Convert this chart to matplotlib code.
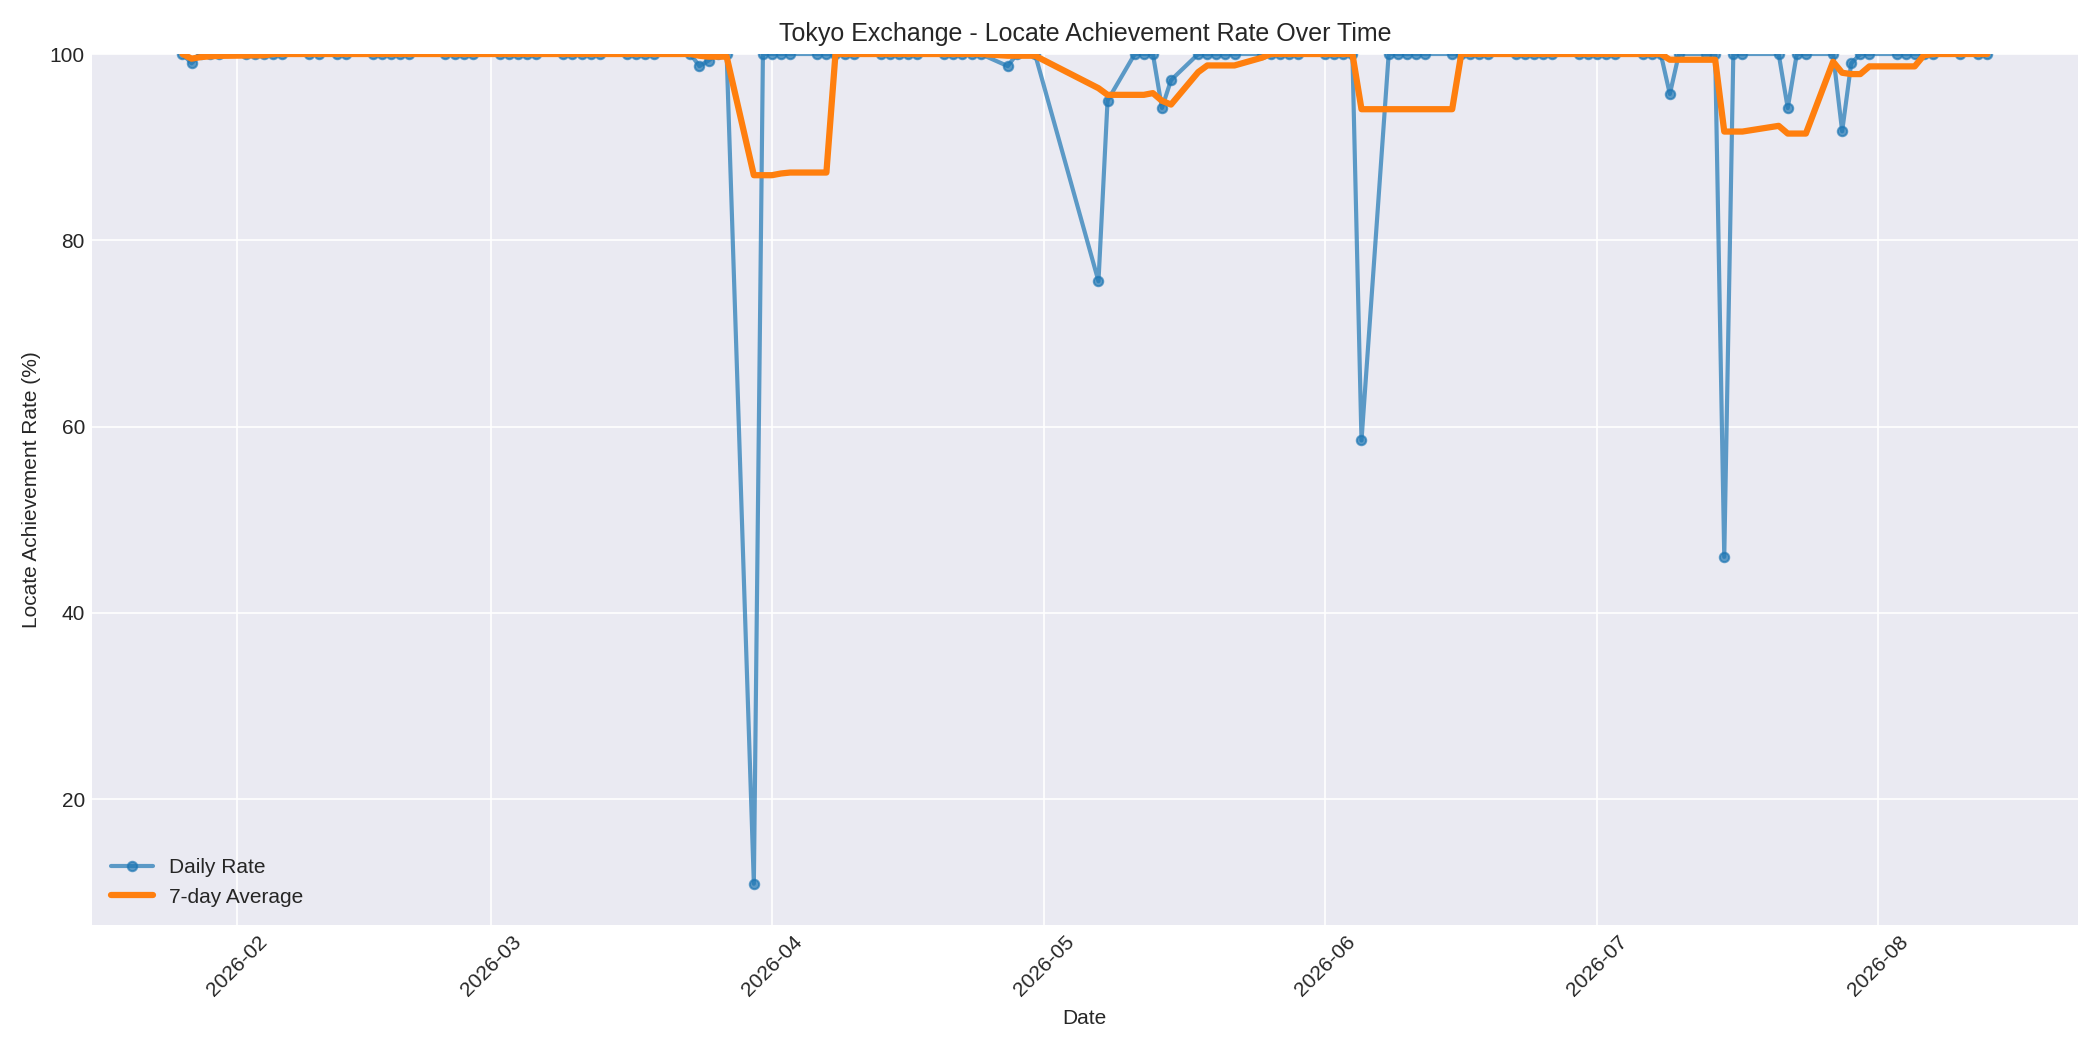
import pandas as pd
import matplotlib.pyplot as plt

plt.style.use('seaborn-v0_8-darkgrid')

START = '2026-01-26'
END = '2026-08-13'
HOLIDAYS = ['2026-02-11', '2026-02-23', '2026-03-20', '2026-04-29', '2026-05-01',
            '2026-05-04', '2026-05-05', '2026-05-06', '2026-07-20', '2026-08-11']

# non-100 daily values
DIPS = {
    '2026-01-27': 99.0,
    '2026-03-24': 98.7,
    '2026-03-25': 99.3,
    '2026-03-30': 10.9,
    '2026-04-27': 98.7,
    '2026-05-07': 75.6,
    '2026-05-08': 95.0,
    '2026-05-14': 94.2,
    '2026-05-15': 97.2,
    '2026-06-05': 58.5,
    '2026-07-09': 95.7,
    '2026-07-15': 46.0,
    '2026-07-22': 94.2,
    '2026-07-28': 91.7,
    '2026-07-29': 99.0,
}

dates = pd.bdate_range(START, END)
dates = dates[~dates.isin(pd.to_datetime(HOLIDAYS))]
rate = pd.Series(100.0, index=dates)
for d, v in DIPS.items():
    rate[pd.Timestamp(d)] = v
avg = rate.rolling(7, min_periods=1).mean()

fig, ax = plt.subplots(figsize=(14, 7), dpi=150)
ax.plot(rate.index, rate.values, marker='o', markersize=4.5, lw=2,
        alpha=0.7, color='#1f77b4', label='Daily Rate')
ax.plot(avg.index, avg.values, lw=3, color='#ff7f0e', label='7-day Average')
ax.set_ylim(top=100)
ax.set_title('Tokyo Exchange - Locate Achievement Rate Over Time')
ax.set_xlabel('Date')
ax.set_ylabel('Locate Achievement Rate (%)')
ax.legend(loc='lower left')
plt.xticks(rotation=45)
fig.tight_layout()
fig.savefig('out.png')
